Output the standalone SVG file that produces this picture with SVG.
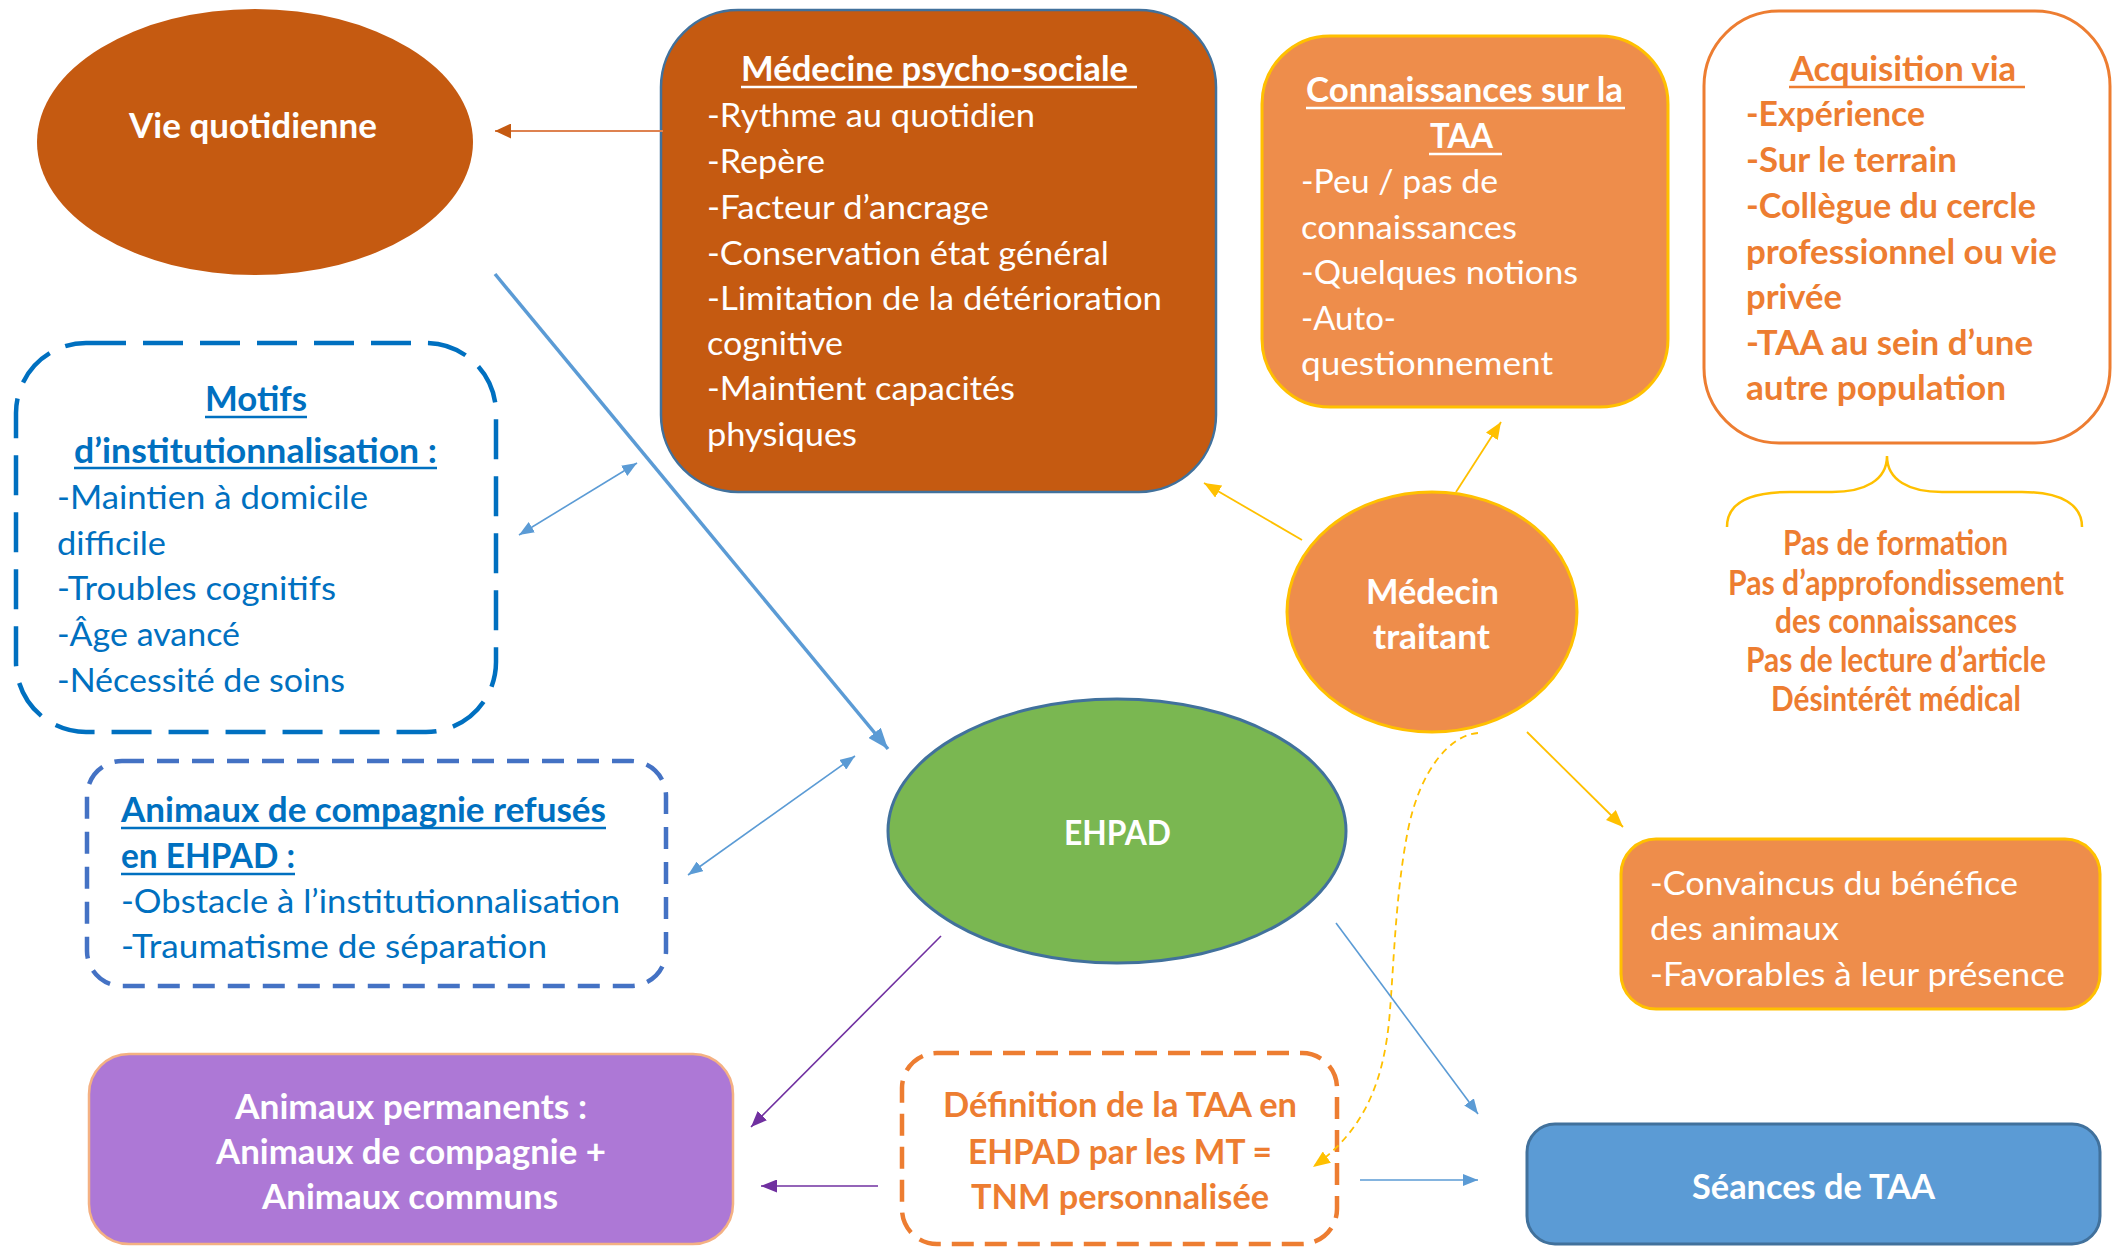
<svg xmlns="http://www.w3.org/2000/svg" width="2121" height="1247" viewBox="0 0 2121 1247">
<style>
text{font-family:Lato,"Open Sans","Liberation Sans",sans-serif;font-size:33.5px;transform:translate(0px,2px)}
.b{font-weight:700}
.w{fill:#ffffff}
.bl{fill:#0070C0}
.or{fill:#ED7D31}
.sm{font-size:28.7px}
.ulw{stroke:#ffffff;stroke-width:2.5}
.ulb{stroke:#0070C0;stroke-width:2.5}
.ulo{stroke:#ED7D31;stroke-width:2.5}
.brown{fill:#C55A11}
.orange{fill:#EE8D4B;stroke:#FFC000;stroke-width:3}
.con{fill:none}
.cb{stroke:#5B9BD5;stroke-width:1.6}
.cg{stroke:#FFC000;stroke-width:1.8}
.cp{stroke:#7030A0;stroke-width:1.6}
</style>
<defs>
<marker id="mBlueS" markerUnits="userSpaceOnUse" markerWidth="15" markerHeight="12" refX="15" refY="6" orient="auto-start-reverse"><path d="M0,0 L15,6 L0,12 z" fill="#5B9BD5"/></marker>
<marker id="mBlueL" markerUnits="userSpaceOnUse" markerWidth="21" markerHeight="16" refX="21" refY="8" orient="auto"><path d="M0,0 L21,8 L0,16 z" fill="#5B9BD5"/></marker>
<marker id="mGold" markerUnits="userSpaceOnUse" markerWidth="17" markerHeight="14" refX="17" refY="7" orient="auto"><path d="M0,0 L17,7 L0,14 z" fill="#FFC000"/></marker>
<marker id="mPurple" markerUnits="userSpaceOnUse" markerWidth="16" markerHeight="13" refX="16" refY="6.5" orient="auto"><path d="M0,0 L16,6.5 L0,13 z" fill="#7030A0"/></marker>
<marker id="mBrown" markerUnits="userSpaceOnUse" markerWidth="16" markerHeight="15" refX="16" refY="7.5" orient="auto"><path d="M0,0 L16,7.5 L0,15 z" fill="#C55A11"/></marker>
</defs>
<rect width="2121" height="1247" fill="#ffffff"/>

<g id="vie-quotidienne">
<ellipse cx="255" cy="142" rx="218" ry="133" class="brown"/>
<text x="129" y="136" class="b w" textLength="248" lengthAdjust="spacingAndGlyphs">Vie quotidienne</text>
</g>

<g id="medecine-psycho-sociale">
<rect x="661" y="10" width="555" height="482" rx="77" class="brown" stroke="#41719C" stroke-width="2.5"/>
<text x="741" y="79" class="b w" textLength="387" lengthAdjust="spacingAndGlyphs">Médecine psycho-sociale</text>
<line x1="741" y1="87" x2="1137" y2="87" class="ulw"/>
<g class="w">
<text x="707" y="125" textLength="328" lengthAdjust="spacingAndGlyphs">-Rythme au quotidien</text>
<text x="707" y="171" textLength="118" lengthAdjust="spacingAndGlyphs">-Repère</text>
<text x="707" y="217" textLength="282" lengthAdjust="spacingAndGlyphs">-Facteur d’ancrage</text>
<text x="707" y="263" textLength="402" lengthAdjust="spacingAndGlyphs">-Conservation état général</text>
<text x="707" y="308" textLength="455" lengthAdjust="spacingAndGlyphs">-Limitation de la détérioration</text>
<text x="707" y="353" textLength="136" lengthAdjust="spacingAndGlyphs">cognitive</text>
<text x="707" y="398" textLength="308" lengthAdjust="spacingAndGlyphs">-Maintient capacités</text>
<text x="707" y="444" textLength="150" lengthAdjust="spacingAndGlyphs">physiques</text>
</g>
</g>

<g id="connaissances-taa">
<rect x="1262" y="36" width="406" height="371" rx="68" class="orange"/>
<text x="1306" y="100" class="b w" textLength="317" lengthAdjust="spacingAndGlyphs">Connaissances sur la</text>
<line x1="1306" y1="108" x2="1625" y2="108" class="ulw"/>
<text x="1430" y="146" class="b w" textLength="63" lengthAdjust="spacingAndGlyphs">TAA</text>
<line x1="1429" y1="154" x2="1502" y2="154" class="ulw"/>
<g class="w">
<text x="1301" y="191" textLength="197" lengthAdjust="spacingAndGlyphs">-Peu / pas de</text>
<text x="1301" y="237" textLength="216" lengthAdjust="spacingAndGlyphs">connaissances</text>
<text x="1301" y="282" textLength="277" lengthAdjust="spacingAndGlyphs">-Quelques notions</text>
<text x="1301" y="328" textLength="95" lengthAdjust="spacingAndGlyphs">-Auto-</text>
<text x="1301" y="373" textLength="252" lengthAdjust="spacingAndGlyphs">questionnement</text>
</g>
</g>

<g id="acquisition-via">
<rect x="1704" y="11" width="406" height="432" rx="75" fill="#ffffff" stroke="#ED7D31" stroke-width="3"/>
<text x="1790" y="79" class="b or" textLength="226" lengthAdjust="spacingAndGlyphs">Acquisition via</text>
<line x1="1789" y1="87" x2="2025" y2="87" class="ulo"/>
<g class="b or">
<text x="1746" y="124" textLength="179" lengthAdjust="spacingAndGlyphs">-Expérience</text>
<text x="1746" y="170" textLength="211" lengthAdjust="spacingAndGlyphs">-Sur le terrain</text>
<text x="1746" y="216" textLength="290" lengthAdjust="spacingAndGlyphs">-Collègue du cercle</text>
<text x="1746" y="262" textLength="311" lengthAdjust="spacingAndGlyphs">professionnel ou vie</text>
<text x="1746" y="307" textLength="96" lengthAdjust="spacingAndGlyphs">privée</text>
<text x="1746" y="353" textLength="287" lengthAdjust="spacingAndGlyphs">-TAA au sein d’une</text>
<text x="1746" y="398" textLength="260" lengthAdjust="spacingAndGlyphs">autre population</text>
</g>
</g>

<g id="brace">
<path d="M1727,527 C1727,505 1745,492 1790,492 L1832,492 C1865,492 1887,480 1887,456 C1887,480 1909,492 1942,492 L2022,492 C2062,492 2082,505 2082,527" fill="none" stroke="#FFC000" stroke-width="2.5"/>
</g>

<g id="pas-de-formation" class="b or sm">
<text x="1783" y="553" textLength="225" lengthAdjust="spacingAndGlyphs">Pas de formation</text>
<text x="1728" y="593" textLength="336" lengthAdjust="spacingAndGlyphs">Pas d’approfondissement</text>
<text x="1775" y="631" textLength="242" lengthAdjust="spacingAndGlyphs">des connaissances</text>
<text x="1746" y="670" textLength="300" lengthAdjust="spacingAndGlyphs">Pas de lecture d’article</text>
<text x="1771" y="709" textLength="250" lengthAdjust="spacingAndGlyphs">Désintérêt médical</text>
</g>

<g id="medecin-traitant">
<ellipse cx="1432" cy="612" rx="145" ry="120" class="orange"/>
<text x="1366" y="602" class="b w" textLength="133" lengthAdjust="spacingAndGlyphs">Médecin</text>
<text x="1373" y="647" class="b w" textLength="117" lengthAdjust="spacingAndGlyphs">traitant</text>
</g>

<g id="motifs">
<rect x="16" y="343" width="480" height="389" rx="70" fill="#ffffff" stroke="#0070C0" stroke-width="4.5" stroke-dasharray="40 17"/>
<text x="205" y="409" class="b bl" textLength="102" lengthAdjust="spacingAndGlyphs">Motifs</text>
<line x1="205" y1="417" x2="307" y2="417" class="ulb"/>
<text x="74" y="461" class="b bl" textLength="363" lengthAdjust="spacingAndGlyphs">d’institutionnalisation :</text>
<line x1="74" y1="468" x2="437" y2="468" class="ulb"/>
<g class="bl">
<text x="57" y="507" textLength="311" lengthAdjust="spacingAndGlyphs">-Maintien à domicile</text>
<text x="57" y="553" textLength="109" lengthAdjust="spacingAndGlyphs">difficile</text>
<text x="57" y="598" textLength="279" lengthAdjust="spacingAndGlyphs">-Troubles cognitifs</text>
<text x="57" y="644" textLength="183" lengthAdjust="spacingAndGlyphs">-Âge avancé</text>
<text x="57" y="690" textLength="288" lengthAdjust="spacingAndGlyphs">-Nécessité de soins</text>
</g>
</g>

<g id="animaux-refuses">
<rect x="87" y="761" width="579" height="225" rx="35" fill="#ffffff" stroke="#4472C4" stroke-width="4.5" stroke-dasharray="22 13"/>
<text x="121" y="820" class="b bl" textLength="485" lengthAdjust="spacingAndGlyphs">Animaux de compagnie refusés</text>
<line x1="121" y1="828" x2="606" y2="828" class="ulb"/>
<text x="121" y="866" class="b bl" textLength="174" lengthAdjust="spacingAndGlyphs">en EHPAD :</text>
<line x1="121" y1="874" x2="295" y2="874" class="ulb"/>
<g class="bl">
<text x="121" y="911" textLength="499" lengthAdjust="spacingAndGlyphs">-Obstacle à l’institutionnalisation</text>
<text x="121" y="956" textLength="426" lengthAdjust="spacingAndGlyphs">-Traumatisme de séparation</text>
</g>
</g>

<g id="ehpad">
<ellipse cx="1117" cy="831" rx="229" ry="132" fill="#7AB751" stroke="#41719C" stroke-width="3"/>
<text x="1064" y="843" class="b w" textLength="107" lengthAdjust="spacingAndGlyphs">EHPAD</text>
</g>

<g id="convaincus">
<rect x="1621" y="839" width="479" height="170" rx="35" class="orange"/>
<g class="w">
<text x="1650" y="893" textLength="368" lengthAdjust="spacingAndGlyphs">-Convaincus du bénéfice</text>
<text x="1650" y="938" textLength="189" lengthAdjust="spacingAndGlyphs">des animaux</text>
<text x="1650" y="984" textLength="415" lengthAdjust="spacingAndGlyphs">-Favorables à leur présence</text>
</g>
</g>

<g id="animaux-permanents">
<rect x="89" y="1054" width="644" height="190" rx="40" fill="#AD78D6" stroke="#F4B183" stroke-width="2.5"/>
<g class="b w">
<text x="235" y="1117" textLength="352" lengthAdjust="spacingAndGlyphs">Animaux permanents :</text>
<text x="216" y="1162" textLength="390" lengthAdjust="spacingAndGlyphs">Animaux de compagnie +</text>
<text x="262" y="1207" textLength="296" lengthAdjust="spacingAndGlyphs">Animaux communs</text>
</g>
</g>

<g id="definition-taa">
<rect x="902" y="1053" width="435" height="191" rx="35" fill="#ffffff" stroke="#ED7D31" stroke-width="4.5" stroke-dasharray="22 11"/>
<g class="b or">
<text x="943" y="1115" textLength="354" lengthAdjust="spacingAndGlyphs">Définition de la TAA en</text>
<text x="968" y="1162" textLength="304" lengthAdjust="spacingAndGlyphs">EHPAD par les MT =</text>
<text x="971" y="1207" textLength="298" lengthAdjust="spacingAndGlyphs">TNM personnalisée</text>
</g>
</g>

<g id="seances-taa">
<rect x="1527" y="1124" width="573" height="120" rx="28" fill="#5B9BD5" stroke="#41719C" stroke-width="3"/>
<text x="1692" y="1197" class="b w" textLength="243" lengthAdjust="spacingAndGlyphs">Séances de TAA</text>
</g>

<g id="connectors" class="con">
<line x1="663" y1="131" x2="495" y2="131" stroke="#DE8250" stroke-width="1.8" marker-end="url(#mBrown)"/>
<line x1="495" y1="274" x2="888" y2="749" stroke="#5B9BD5" stroke-width="3.5" marker-end="url(#mBlueL)"/>
<line x1="519" y1="535" x2="637" y2="463" class="cb" marker-start="url(#mBlueS)" marker-end="url(#mBlueS)"/>
<line x1="688" y1="875" x2="855" y2="756" class="cb" marker-start="url(#mBlueS)" marker-end="url(#mBlueS)"/>
<line x1="1456" y1="492" x2="1501" y2="422" class="cg" marker-end="url(#mGold)"/>
<line x1="1302" y1="540" x2="1204" y2="483" class="cg" marker-end="url(#mGold)"/>
<line x1="1527" y1="732" x2="1623" y2="827" class="cg" marker-end="url(#mGold)"/>
<path d="M1478,733 C1450,735 1420,770 1408,830 C1396,890 1394,960 1390,1010 C1385,1080 1365,1130 1313,1167" class="cg" stroke-dasharray="7 5" marker-end="url(#mGold)"/>
<line x1="1336" y1="923" x2="1478" y2="1114" class="cb" marker-end="url(#mBlueS)"/>
<line x1="1360" y1="1180" x2="1478" y2="1180" class="cb" marker-end="url(#mBlueS)"/>
<line x1="941" y1="936" x2="751" y2="1127" class="cp" marker-end="url(#mPurple)"/>
<line x1="878" y1="1186" x2="761" y2="1186" class="cp" marker-end="url(#mPurple)"/>
</g>
</svg>
